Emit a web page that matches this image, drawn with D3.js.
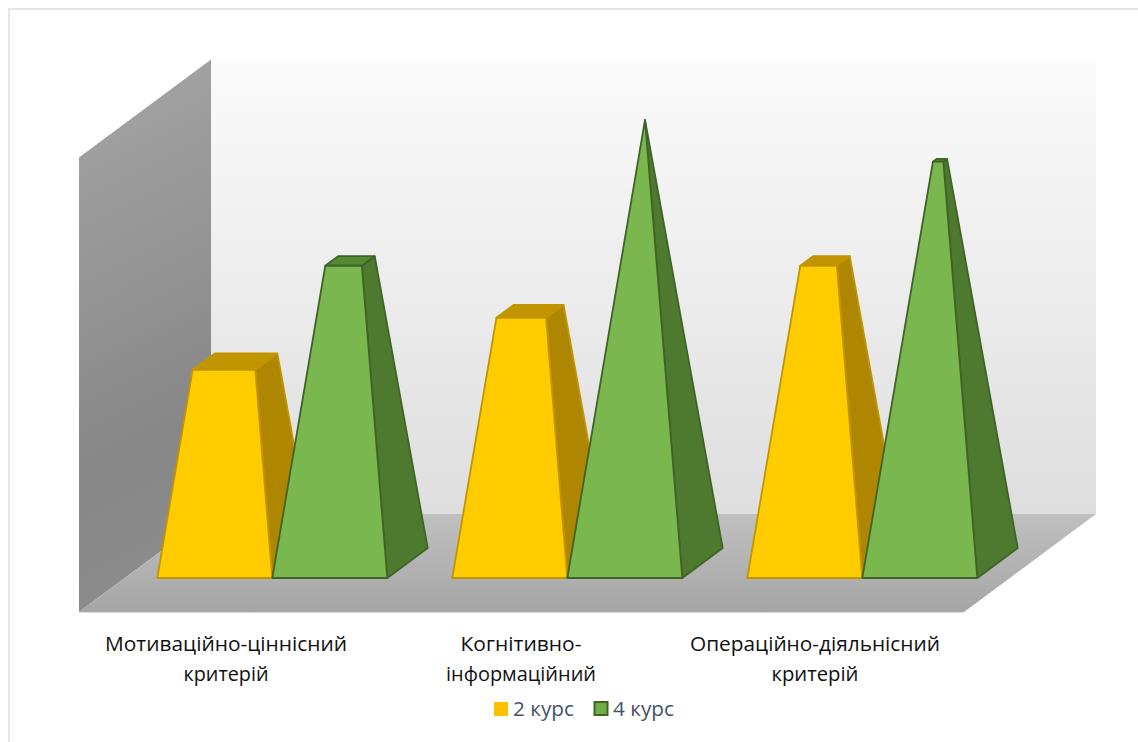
<!DOCTYPE html>
<html><head><meta charset="utf-8">
<script src="https://cdn.jsdelivr.net/npm/d3@7"></script>
<style>html,body{margin:0;padding:0;background:#fff;overflow:hidden}svg{display:block}</style>
</head><body><div id="chart"></div>
<script>
const categories = [["Мотиваційно-ціннісний","критерій"],["Когнітивно-","інформаційний"],["Операційно-діяльнісний","критерій"]];
const seriesNames = ["2 курс","4 курс"];
const values2 = [20,25,30];
const values4 = [30,44,40];
const fills = ["#ffcc00","#7ab74e"];
const sideFills = ["#ae8600","#4e7a30"];
const topFills = ["#c29500","#558a34"];
const strokes = ["#c29500","#3f6427"];

const W=1138,H=742;
const svg=d3.select("#chart").append("svg").attr("width",W).attr("height",H);
const defs=svg.append("defs");
function grad(id,x1,y1,x2,y2,stops){
  const g=defs.append("linearGradient").attr("id",id).attr("x1",x1).attr("y1",y1).attr("x2",x2).attr("y2",y2);
  stops.forEach(s=>g.append("stop").attr("offset",s[0]).attr("stop-color",s[1]));
}
grad("wall",0,0,0,1,[[0,"#fbfbfb"],[1,"#dedede"]]);
grad("side",0,0,.12,1,[[0,"#a6a6a6"],[.75,"#878787"],[1,"#8c8c8c"]]);
grad("floor",0,0,0,1,[[0,"#c0c0c0"],[1,"#a6a6a6"]]);

svg.append("rect").attr("x",9).attr("y",9).attr("width",1200).attr("height",800)
  .attr("fill","#fff").attr("stroke","#e2e7ee").attr("stroke-width",2);

// plot geometry: front floor edge, depth vector
const left=79,right=964,floorY=612,depthDX=132,depthDY=-98,wallH=454.5;
const project=(x,d,hPx)=>[x+d*depthDX, floorY+d*depthDY-hPx];
const poly=(pts)=>pts.map(p=>p.join(",")).join(" ");

svg.append("polygon").attr("points",poly([project(left,1,wallH),project(right,1,wallH),project(right,1,0),project(left,1,0)])).attr("fill","url(#wall)");
svg.append("polygon").attr("points",poly([project(left,0,wallH),project(left,1,wallH),project(left,1,0),project(left,0,0)])).attr("fill","url(#side)");
svg.append("polygon").attr("points",poly([project(left,0,0),project(right,0,0),project(right,1,0),project(left,1,0)])).attr("fill","url(#floor)");
svg.append("line").attr("x1",left).attr("x2",right).attr("y1",floorY+.5).attr("y2",floorY+.5).attr("stroke","#d9dee5").attr("stroke-width",1);

const x0=d3.scaleBand().domain(d3.range(categories.length)).range([left,right]).paddingInner(65/295).paddingOuter(32.5/295);
const x1=d3.scaleBand().domain(d3.range(seriesNames.length)).range([0,x0.bandwidth()]);
const apexValue=d3.max(values4);
const yPx=d3.scaleLinear().domain([0,apexValue]).range([0,443]);
const dFront=.347,dBack=.653;

const series=[values2,values4];
series.forEach((vals,s)=>{
  const g=svg.append("g");
  vals.forEach((v,c)=>{
    const xa=x0(c)+x1(s), xb=xa+x1.bandwidth();
    const FL=project(xa,dFront,0),FR=project(xb,dFront,0),BR=project(xb,dBack,0),BL=project(xa,dBack,0);
    const A=project((xa+xb)/2,.5,yPx(apexValue));
    const t=v/apexValue;
    const L=(p)=>[p[0]+(A[0]-p[0])*t,p[1]+(A[1]-p[1])*t];
    const tFL=L(FL),tFR=L(FR),tBR=L(BR),tBL=L(BL);
    const face=(pts,fill)=>g.append("polygon").attr("points",poly(pts)).attr("fill",fill)
      .attr("stroke",strokes[s]).attr("stroke-width",1.8).attr("stroke-linejoin","round");
    face([FR,BR,tBR,tFR],sideFills[s]);
    face([tFL,tFR,tBR,tBL],topFills[s]);
    face([FL,FR,tFR,tFL],fills[s]);
  });
});

const font="'Open Sans',sans-serif";
const labelCx=[226,521,815];
const labelW=[[242,85],[121,150],[250,87]];
categories.forEach((lines,c)=>{
  lines.forEach((ln,i)=>{
    svg.append("text").attr("x",labelCx[c]).attr("y",651+i*30).attr("text-anchor","middle")
      .attr("font-family",font).attr("font-size",20).attr("fill","#111")
      .attr("textLength",labelW[c][i]).attr("lengthAdjust","spacingAndGlyphs").text(ln);
  });
});
const legX=[494,594.5],legTxt=[513,613];
seriesNames.forEach((n,i)=>{
  svg.append("rect").attr("x",legX[i]).attr("y",702).attr("width",i?13:14).attr("height",i?13:14)
    .attr("fill",i?"#70ad47":"#ffc000").attr("stroke",i?"#3f6427":"none").attr("stroke-width",2);
  svg.append("text").attr("x",legTxt[i]).attr("y",715.5).attr("font-family",font).attr("font-size",20)
    .attr("fill","#44546a").attr("textLength",61).attr("lengthAdjust","spacingAndGlyphs").text(n);
});
</script></body></html>
